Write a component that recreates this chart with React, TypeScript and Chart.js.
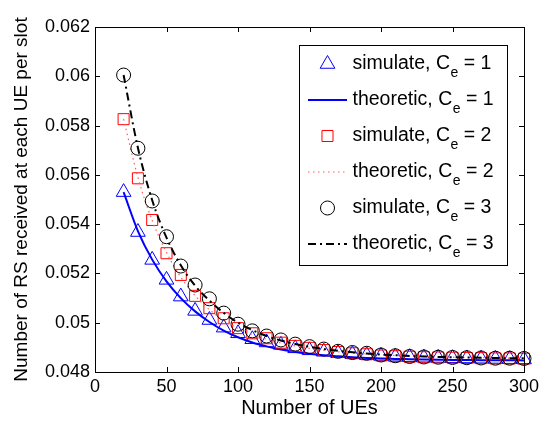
import React, { useEffect, useRef } from "react";
import { Chart, registerables } from "chart.js";

Chart.register(...registerables);

const xValues = [20, 30, 40, 50, 60, 70, 80, 90, 100, 110, 120, 130, 140, 150, 160, 170, 180, 190, 200, 210, 220, 230, 240, 250, 260, 270, 280, 290, 300];

const sim1 = [0.0553, 0.05368, 0.05255, 0.05174, 0.05106, 0.05048, 0.05011, 0.0498, 0.04957, 0.04933, 0.0492, 0.0491, 0.04896, 0.04888, 0.04882, 0.04876, 0.04872, 0.04868, 0.04865, 0.04862, 0.0486, 0.04858, 0.04857, 0.04856, 0.04855, 0.04854, 0.04853, 0.04852, 0.04851];
const theo1 = [0.0553, 0.05372, 0.05256, 0.05168, 0.051, 0.05046, 0.05003, 0.04968, 0.04941, 0.0492, 0.04904, 0.04891, 0.04881, 0.04874, 0.04868, 0.04864, 0.0486, 0.04857, 0.04855, 0.04853, 0.04852, 0.04851, 0.0485, 0.04849, 0.04849, 0.04848, 0.04848, 0.04848, 0.04847];
const sim2 = [0.05826, 0.05586, 0.05417, 0.05282, 0.05194, 0.05109, 0.05059, 0.05018, 0.04978, 0.04957, 0.04937, 0.04919, 0.04906, 0.04898, 0.04889, 0.04881, 0.04876, 0.04872, 0.04867, 0.04864, 0.04862, 0.0486, 0.04859, 0.04858, 0.04857, 0.04856, 0.04855, 0.04855, 0.04854];
const theo2 = [0.05826, 0.0559, 0.05415, 0.05285, 0.05185, 0.0511, 0.05053, 0.0501, 0.04977, 0.04952, 0.04933, 0.04918, 0.04906, 0.04896, 0.04888, 0.04882, 0.04877, 0.04873, 0.0487, 0.04867, 0.04865, 0.04863, 0.04861, 0.0486, 0.04859, 0.04858, 0.04857, 0.04856, 0.04855];
const sim3 = [0.06005, 0.05708, 0.05494, 0.05349, 0.0523, 0.05153, 0.05097, 0.05039, 0.04994, 0.04967, 0.04946, 0.0493, 0.04913, 0.04903, 0.04893, 0.04884, 0.04879, 0.04876, 0.04869, 0.04866, 0.04863, 0.04861, 0.0486, 0.04859, 0.04858, 0.04857, 0.04856, 0.04856, 0.04855];
const theo3 = [0.06005, 0.0571, 0.05497, 0.05345, 0.05233, 0.0515, 0.0509, 0.0504, 0.05, 0.0497, 0.04946, 0.04928, 0.04914, 0.04902, 0.04893, 0.04886, 0.0488, 0.04875, 0.04871, 0.04868, 0.04865, 0.04863, 0.04861, 0.0486, 0.04859, 0.04858, 0.04857, 0.04856, 0.04856];

const xTicks = [0, 50, 100, 150, 200, 250, 300];
const yTicks = [0.048, 0.05, 0.052, 0.054, 0.056, 0.058, 0.06, 0.062];

const legendMain = ["simulate, C", "theoretic, C", "simulate, C", "theoretic, C", "simulate, C", "theoretic, C"];
const legendSub = ["e", "e", "e", "e", "e", "e"];
const legendTail = [" = 1", " = 1", " = 2", " = 2", " = 3", " = 3"];

const FONT = '"Liberation Sans", Arial, Helvetica, sans-serif';

const toPts = (ys: number[]) => ys.map((y, i) => ({ x: xValues[i], y }));

function drawMarker(ctx: CanvasRenderingContext2D, style: string, x: number, y: number, r: number, color: string) {
  ctx.save();
  ctx.strokeStyle = color;
  ctx.lineWidth = 1;
  ctx.setLineDash([]);
  ctx.beginPath();
  if (style === "triangle") {
    let rad = 0;
    ctx.moveTo(x + Math.sin(rad) * r, y - Math.cos(rad) * r);
    rad += (2 * Math.PI) / 3;
    ctx.lineTo(x + Math.sin(rad) * r, y - Math.cos(rad) * r);
    rad += (2 * Math.PI) / 3;
    ctx.lineTo(x + Math.sin(rad) * r, y - Math.cos(rad) * r);
    ctx.closePath();
  } else if (style === "rect") {
    const s = Math.SQRT1_2 * r;
    ctx.rect(x - s, y - s, 2 * s, 2 * s);
  } else {
    ctx.arc(x, y, r, 0, Math.PI * 2);
  }
  ctx.stroke();
  ctx.restore();
}

const framePlugin = {
  id: "matlabFrame",
  afterDraw(chart: any) {
    const { ctx, chartArea } = chart;
    const { left, right, top, bottom } = chartArea;
    const xs = chart.scales.x;
    const ys = chart.scales.y;
    ctx.save();
    ctx.strokeStyle = "#000";
    ctx.lineWidth = 1;
    ctx.setLineDash([]);
    ctx.strokeRect(Math.round(left) + 0.5, Math.round(top) + 0.5, Math.round(right - left), Math.round(bottom - top));
    const tl = 5;
    ctx.beginPath();
    xTicks.forEach((v) => {
      const px = Math.round(xs.getPixelForValue(v)) + 0.5;
      ctx.moveTo(px, bottom);
      ctx.lineTo(px, bottom - tl);
      ctx.moveTo(px, top);
      ctx.lineTo(px, top + tl);
    });
    yTicks.forEach((v) => {
      const py = Math.round(ys.getPixelForValue(v)) + 0.5;
      ctx.moveTo(left, py);
      ctx.lineTo(left + tl, py);
      ctx.moveTo(right, py);
      ctx.lineTo(right - tl, py);
    });
    ctx.stroke();

    // legend
    const bx = 299.5, by = 45.5, bw = 208, bh = 220;
    ctx.fillStyle = "#fff";
    ctx.fillRect(bx, by, bw, bh);
    ctx.strokeRect(bx, by, bw, bh);
    const datasets = chart.data.datasets;
    const rowY0 = 64;
    const step = 36;
    const symL = 308, symR = 347, symC = 327.5;
    const textX = 352.5;
    datasets.forEach((ds: any, i: number) => {
      const y = rowY0 + i * step;
      if (ds.showLine === false) {
        drawMarker(ctx, ds.pointStyle, symC, y, ds.pointRadius, ds.borderColor);
      } else {
        ctx.save();
        ctx.strokeStyle = ds.borderColor;
        ctx.lineWidth = ds.borderWidth;
        ctx.setLineDash(ds.borderDash || []);
        ctx.beginPath();
        ctx.moveTo(symL, y);
        ctx.lineTo(symR, y);
        ctx.stroke();
        ctx.restore();
      }
      ctx.fillStyle = "#000";
      ctx.textBaseline = "middle";
      ctx.textAlign = "left";
      ctx.font = `19.5px ${FONT}`;
      const main = legendMain[i];
      ctx.fillText(main, textX, y);
      let cx = textX + ctx.measureText(main).width;
      ctx.font = `14px ${FONT}`;
      ctx.fillText(legendSub[i], cx + 0.5, y + 9);
      cx += ctx.measureText(legendSub[i]).width + 0.5;
      ctx.font = `19.5px ${FONT}`;
      ctx.fillText(legendTail[i], cx, y);
    });
    ctx.restore();
  },
};

export default function App() {
  const ref = useRef<HTMLCanvasElement | null>(null);
  useEffect(() => {
    if (!ref.current) return;
    const datasets: any[] = [
      { label: "simulate, Ce = 1", data: toPts(sim1), showLine: false, pointStyle: "triangle", pointRadius: 8.5, borderColor: "#0000ff", backgroundColor: "rgba(0,0,0,0)", pointBorderWidth: 1 },
      { label: "theoretic, Ce = 1", data: toPts(theo1), showLine: true, pointRadius: 0, borderColor: "#0000ff", borderWidth: 2, cubicInterpolationMode: "monotone" },
      { label: "simulate, Ce = 2", data: toPts(sim2), showLine: false, pointStyle: "rect", pointRadius: 7.8, borderColor: "#ff0000", backgroundColor: "rgba(0,0,0,0)", pointBorderWidth: 1 },
      { label: "theoretic, Ce = 2", data: toPts(theo2), showLine: true, pointRadius: 0, borderColor: "#ff5a5a", borderWidth: 1.2, borderDash: [1.5, 3.5], cubicInterpolationMode: "monotone" },
      { label: "simulate, Ce = 3", data: toPts(sim3), showLine: false, pointStyle: "circle", pointRadius: 7, borderColor: "#000000", backgroundColor: "rgba(0,0,0,0)", pointBorderWidth: 1 },
      { label: "theoretic, Ce = 3", data: toPts(theo3), showLine: true, pointRadius: 0, borderColor: "#000000", borderWidth: 2, borderDash: [8, 4, 2, 4], cubicInterpolationMode: "monotone" },
    ];
    datasets.forEach((d, i) => {
      d.order = datasets.length - 1 - i;
      d.clip = false;
      d.fill = false;
    });
    const chart = new Chart(ref.current, {
      type: "scatter",
      data: { datasets },
      options: {
        responsive: false,
        animation: false,
        layout: { padding: { left: 0, right: 21, top: 27, bottom: 0 } },
        plugins: { legend: { display: false }, tooltip: { enabled: false } },
        scales: {
          x: {
            type: "linear",
            min: 0,
            max: 300,
            afterBuildTicks: (s: any) => { s.ticks = xTicks.map((v) => ({ value: v })); },
            ticks: { color: "#000", font: { family: FONT, size: 18 }, padding: 4, maxRotation: 0 },
            grid: { display: false, drawTicks: false },
            border: { display: false },
            title: { display: true, text: "Number of UEs", color: "#000", font: { family: FONT, size: 20 }, padding: { top: 0, bottom: 6 } },
            afterFit: (s: any) => { s.height = 54; },
          },
          y: {
            type: "linear",
            min: 0.048,
            max: 0.062,
            afterBuildTicks: (s: any) => { s.ticks = yTicks.map((v) => ({ value: v })); },
            ticks: { color: "#000", font: { family: FONT, size: 18 }, padding: 5, callback: (v: any) => String(Number(Number(v).toFixed(3))) },
            grid: { display: false, drawTicks: false },
            border: { display: false },
            title: { display: true, text: "Number of RS received at each UE per slot", color: "#000", font: { family: FONT, size: 19 }, padding: { top: 10, bottom: 0 } },
            afterFit: (s: any) => { s.width = 95; },
          },
        },
      },
      plugins: [framePlugin],
    } as any);
    return () => chart.destroy();
  }, []);
  return (
    <div style={{ position: "fixed", left: 0, top: 0, width: 545, height: 426, background: "#fff" }}>
      <canvas ref={ref} width={545} height={426} style={{ display: "block", width: 545, height: 426 }} />
    </div>
  );
}
